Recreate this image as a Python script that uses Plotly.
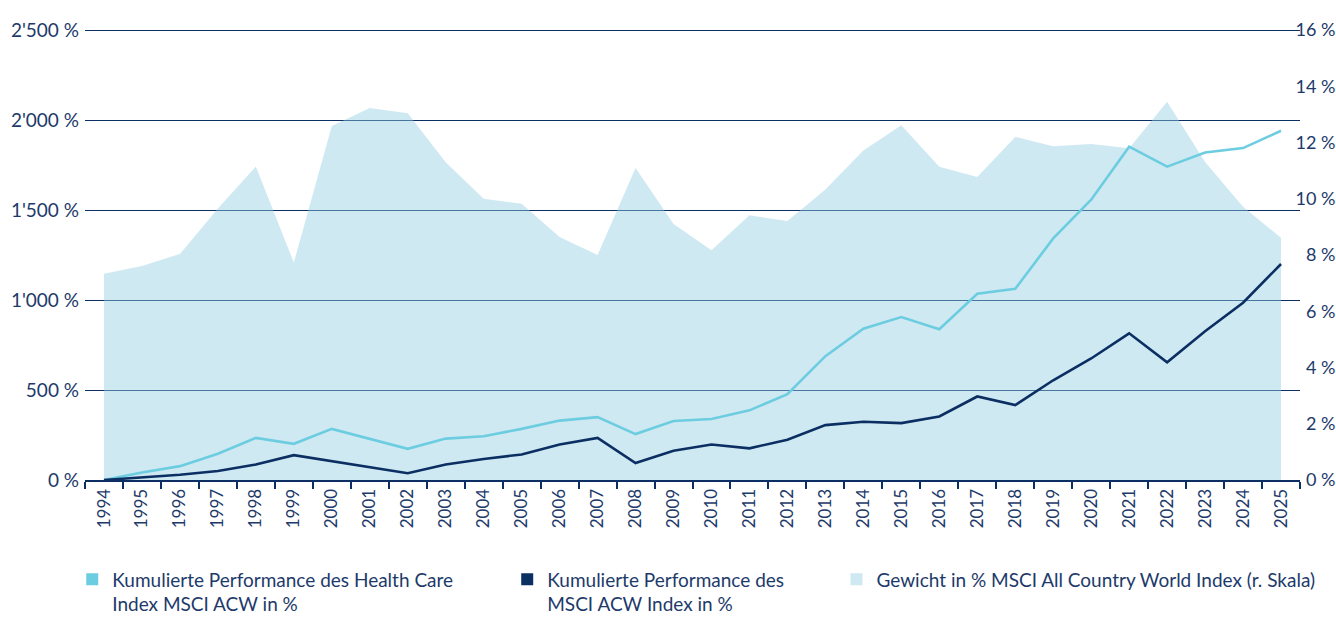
import plotly.graph_objects as go

years = [str(y) for y in range(1994, 2026)]

health_care = [0, 42, 77, 146, 234, 201, 284, 230, 173, 230, 243, 284, 330, 349, 255, 328,
               339, 387, 477, 688, 840, 905, 838, 1035, 1062, 1342, 1557, 1852, 1741, 1819,
               1844, 1940]

msci_acw = [0, 15, 29, 50, 86, 138, 105, 71, 38, 86, 117, 142, 197, 234, 94, 163,
            197, 176, 224, 305, 324, 316, 353, 464, 416, 554, 675, 815, 654, 826,
            985, 1200]

weight_hc = [7.33, 7.61, 8.04, 9.65, 11.15, 7.73, 12.59, 13.23, 13.04, 11.3, 10.0, 9.82,
             8.64, 8.0, 11.09, 9.10, 8.17, 9.41, 9.21, 10.33, 11.72, 12.61, 11.14, 10.77,
             12.2, 11.87, 11.95, 11.8, 13.45, 11.31, 9.72, 8.61]

left_ticks = [0, 500, 1000, 1500, 2000, 2500]
left_labels = ["0 %", "500 %", "1'000 %", "1'500 %", "2'000 %", "2'500 %"]
right_ticks = [0, 2, 4, 6, 8, 10, 12, 14, 16]
# figure spaces keep the right-hand labels flush right
right_labels = ["\u20070 %", "\u20072 %", "\u20074 %", "\u20076 %", "\u20078 %",
                "10 %", "12 %", "14 %", "16 %"]

legend_names = [
    "Kumulierte Performance des Health Care<br>Index MSCI ACW in %",
    "Kumulierte Performance des<br>MSCI ACW Index in %",
    "Gewicht in % MSCI All Country World Index (r. Skala)",
]

NAVY = "#0b2f63"
LIGHT = "#6dcde0"
AREA_FILL = "rgba(149,207,227,0.45)"
AREA_SWATCH = "#cfe9f2"
TEXT = "#1d3a6a"
FONT = "Lato"

LEFT_MAX = 2500
RIGHT_MAX = 16
PAD = 452 / 450  # 2px headroom so the top gridline is drawn

fig = go.Figure()

# weight area on the main (right-side) axis so it sits below the lines
fig.add_trace(go.Scatter(
    x=years, y=weight_hc, yaxis="y", mode="none", fill="tozeroy",
    fillcolor=AREA_FILL, showlegend=False, hoverinfo="skip"))

# performance lines on the overlaying (left-side) axis
fig.add_trace(go.Scatter(
    x=years, y=health_care, yaxis="y2", mode="lines",
    line=dict(color=LIGHT, width=2.6), showlegend=False))

fig.add_trace(go.Scatter(
    x=years, y=msci_acw, yaxis="y2", mode="lines",
    line=dict(color=NAVY, width=2.6), showlegend=False))

# legend entries (square swatches)
for name, col, lg in zip(legend_names, [LIGHT, NAVY, AREA_SWATCH],
                         ["legend", "legend2", "legend3"]):
    fig.add_trace(go.Scatter(
        x=[None], y=[None], yaxis="y2", mode="markers", name=name, legend=lg,
        marker=dict(symbol="square", size=12, color=col)))

legend_common = dict(orientation="v", yanchor="top", xanchor="left",
                     bgcolor="rgba(0,0,0,0)", font=dict(family=FONT, size=19, color=TEXT),
                     valign="top", itemwidth=30, tracegroupgap=0)
LEG_Y = -0.178

fig.update_layout(
    width=1336, height=617,
    margin=dict(l=85, r=36, t=28, b=137, autoexpand=False),
    paper_bgcolor="white", plot_bgcolor="white",
    font=dict(family=FONT, size=19, color=TEXT),
    showlegend=True,
    legend=dict(x=-0.0105, y=LEG_Y, **legend_common),
    legend2=dict(x=0.3475, y=LEG_Y, **legend_common),
    legend3=dict(x=0.6185, y=LEG_Y, **legend_common),
    xaxis=dict(
        type="category", range=[-0.5, len(years) - 0.5], automargin=False,
        tickangle=-90, tickson="boundaries", ticks="outside", ticklen=7,
        tickcolor=NAVY, tickwidth=2, showline=True, linecolor=NAVY, linewidth=2,
        showgrid=False, tickfont=dict(family=FONT, size=17, color=TEXT),
    ),
    yaxis=dict(
        range=[0, RIGHT_MAX * PAD], tickvals=right_ticks, ticktext=right_labels,
        side="right", anchor="free", position=0.9955, automargin=False,
        showgrid=False, zeroline=False, showline=False,
        ticks="", tickfont=dict(family=FONT, size=18, color=TEXT),
    ),
    yaxis2=dict(
        range=[0, LEFT_MAX * PAD], tickvals=left_ticks, ticktext=left_labels,
        overlaying="y", side="left", automargin=False, ticklabelstandoff=5,
        showgrid=True, gridcolor=NAVY, gridwidth=1.3, zeroline=False,
        ticks="", tickfont=dict(family=FONT, size=19, color=TEXT),
    ),
)

fig.write_html(
    "out.html",
    config={"displayModeBar": False},
    post_script="document.body.style.margin='0';document.body.style.overflow='hidden';",
)
